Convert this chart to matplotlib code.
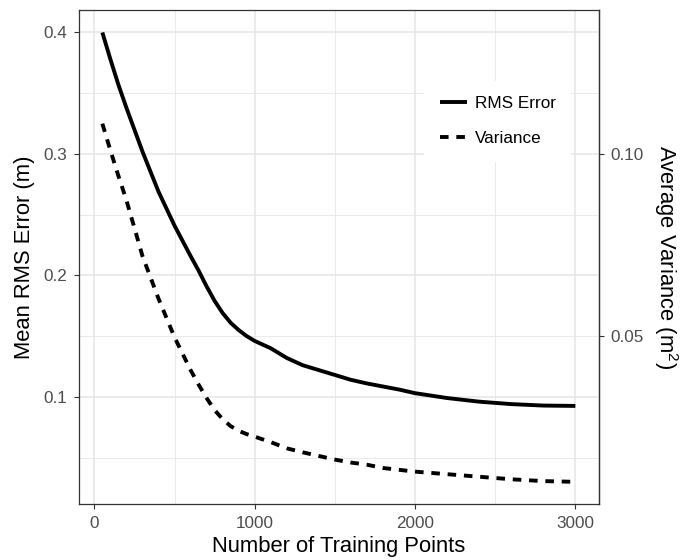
import numpy as np
import matplotlib
matplotlib.use("Agg")
import matplotlib.pyplot as plt

plt.rcParams['font.family'] = ['Liberation Sans', 'DejaVu Sans']
plt.rcParams['mathtext.fontset'] = 'custom'
plt.rcParams['mathtext.rm'] = 'Liberation Sans'
plt.rcParams['mathtext.it'] = 'Liberation Sans:italic'

# Number of training points
n_points = [50, 100, 150, 200, 250, 300, 400, 500, 600, 650, 700, 750, 800,
            850, 900, 950, 1000, 1100, 1200, 1300, 1400, 1500, 1600, 1700,
            1800, 1900, 2000, 2200, 2400, 2600, 2800, 3000]

# Mean RMS error (m)
rms_error = [0.400, 0.378, 0.357, 0.338, 0.320, 0.302, 0.269, 0.241, 0.216,
             0.204, 0.191, 0.179, 0.169, 0.161, 0.155, 0.150, 0.146, 0.140,
             0.132, 0.126, 0.122, 0.118, 0.114, 0.111, 0.1085, 0.106, 0.103,
             0.099, 0.096, 0.094, 0.0928, 0.0925]

# Average variance (m^2)
variance = [0.1083, 0.1010, 0.0940, 0.0873, 0.0797, 0.0720, 0.0603, 0.0497,
            0.0407, 0.0367, 0.0330, 0.0297, 0.0272, 0.0253, 0.0240, 0.0231,
            0.0224, 0.0209, 0.0192, 0.0181, 0.0171, 0.0161, 0.0153, 0.0147,
            0.0138, 0.0133, 0.0128, 0.0121, 0.0114, 0.0107, 0.0102, 0.0100]

var_scale = 3.0  # right axis shows left-axis value / 3

x_ticks = [0, 1000, 2000, 3000]
y_ticks = [0.1, 0.2, 0.3, 0.4]
y2_ticks = [0.05, 0.10]
y2_labels = ["0.05", "0.10"]

x = np.array(n_points)
rms = np.array(rms_error)
var_scaled = np.array(variance) * var_scale

fig = plt.figure(figsize=(6.84, 5.6), dpi=100)
ax = fig.add_axes([78.7 / 684, 1 - 504.3 / 560, (599 - 78.7) / 684, (504.3 - 10) / 560])

tick_color = '#333333'
label_color = '#4D4D4D'
grid_color = '#E6E6E6'

ax.plot(x, rms, color='black', lw=2.8, solid_capstyle='butt', solid_joinstyle='round',
        label='RMS Error', zorder=3)
ax.plot(x, var_scaled, color='black', lw=2.8, linestyle=(0, (2.2, 2.0)),
        dash_capstyle='butt', dash_joinstyle='round', label='Variance', zorder=3)

# ggplot-style 5% expansion
xmin, xmax = x.min(), x.max()
xr = xmax - xmin
ax.set_xlim(xmin - 0.05 * xr, xmax + 0.05 * xr)
ymin = min(rms.min(), var_scaled.min())
ymax = max(rms.max(), var_scaled.max())
yr = ymax - ymin
ax.set_ylim(ymin - 0.05 * yr, ymax + 0.05 * yr)

ax.set_xticks(x_ticks)
ax.set_xticks([500, 1500, 2500], minor=True)
ax.set_yticks(y_ticks)
ax.set_yticklabels([f"{v:.1f}" for v in y_ticks])
ax.set_yticks([0.05, 0.15, 0.25, 0.35], minor=True)

ax.grid(which='major', color=grid_color, lw=1.1, zorder=0)
ax.grid(which='minor', color=grid_color, lw=0.6, zorder=0)
ax.set_axisbelow(True)

ax.tick_params(which='major', direction='out', length=3.8, width=0.8, color=tick_color,
               labelsize=12.3, labelcolor=label_color, pad=4.5)
ax.tick_params(which='minor', length=0)

for s in ax.spines.values():
    s.set_color(tick_color)
    s.set_linewidth(0.9)

ax.set_xlabel('Number of Training Points', fontsize=15.8, color='black', labelpad=4)
ax.set_ylabel('Mean RMS Error (m)', fontsize=15.8, color='black', labelpad=6)

sec = ax.secondary_yaxis('right', functions=(lambda v: v / var_scale, lambda v: v * var_scale))
sec.set_yticks(y2_ticks)
sec.set_yticklabels(y2_labels)
sec.tick_params(direction='out', length=3.8, width=0.8, color=tick_color,
                labelsize=12.3, labelcolor=label_color, pad=4.5)
sec.spines['right'].set_color(tick_color)
sec.spines['right'].set_linewidth(0.9)
sec.set_ylabel('Average Variance (m$^{2}$)', fontsize=15.8, rotation=270,
               labelpad=26, color='black')

leg = ax.legend(loc='center', bbox_to_anchor=(0.805, 0.775), fontsize=12.3,
                frameon=True, facecolor='white', edgecolor='none', framealpha=1,
                fancybox=False, handlelength=1.6, handletextpad=0.45,
                labelspacing=1.2, borderpad=0.9)

fig.savefig('out.png', dpi=100)
